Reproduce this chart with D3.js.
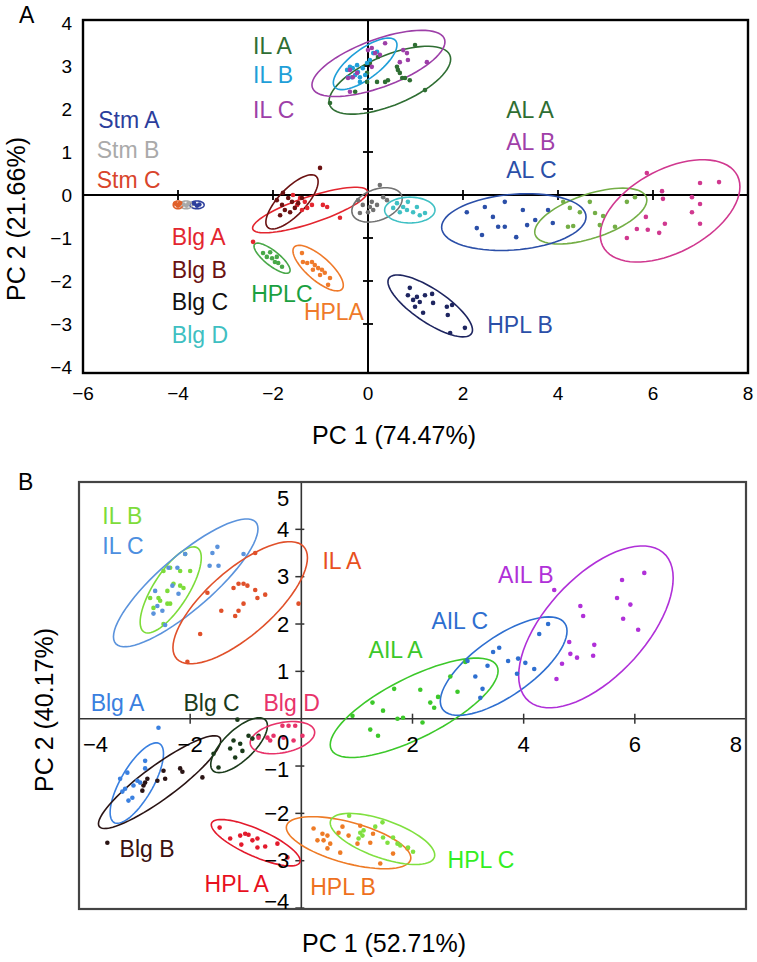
<!DOCTYPE html>
<html><head><meta charset="utf-8">
<script src="https://cdn.jsdelivr.net/npm/d3@7"></script>
<style>
body{margin:0;background:#fff}
text{font-family:"Liberation Sans",Arial,sans-serif}
</style></head>
<body><svg id="c" width="757" height="962"></svg>
<script>
// ---------------- Panel A data ----------------
const groupsA = ["IL A","IL B","IL C","Stm A","Stm B","Stm C","Blg A","Blg B","Blg C","Blg D","HPLC","HPLA","HPL B","AL A","AL B","AL C"];
// ellipse: [cx, cy, half-width, half-height, y-offset of rightmost point] in data units
const ellipsesA = [
  [0.46, 2.67, 1.28, 0.79, 0.49],
  [-0.06, 3.05, 0.67, 0.60, 0.44],
  [0.22, 3.06, 1.40, 0.77, 0.50],
  [-3.60, -0.23, 0.15, 0.09, 0],
  [-3.83, -0.23, 0.13, 0.09, 0],
  [-4.00, -0.23, 0.10, 0.09, 0],
  [-1.22, -0.35, 1.21, 0.53, 0.42],
  [-1.60, -0.16, 0.55, 0.63, 0.47],
  [0.19, -0.23, 0.53, 0.40, 0.14],
  [0.88, -0.35, 0.53, 0.30, 0],
  [-2.02, -1.47, 0.38, 0.35, -0.28],
  [-1.05, -1.70, 0.53, 0.53, -0.40],
  [1.31, -2.58, 0.89, 0.72, -0.56],
  [4.69, -0.49, 1.18, 0.65, 0.37],
  [6.36, -0.37, 1.47, 1.19, 0.56],
  [3.07, -0.63, 1.52, 0.66, 0.12]
];
const pointsA = [
  [[-0.80,2.14],[-0.27,2.40],[0.19,2.63],[0.36,2.63],[0.42,2.67],[0.61,2.98],[0.63,2.91],[0.67,2.84],[0.72,2.72],[0.78,2.72],[0.88,2.67],[1.20,2.44],[-0.02,2.84],[0.04,3.07],[0.21,3.21],[-0.02,2.63],[0.99,3.49]],
  [[-0.44,2.91],[-0.38,2.98],[-0.32,2.95],[-0.23,3.02],[-0.21,2.86],[-0.27,2.79],[-0.17,2.74],[-0.34,2.74],[-0.11,2.95],[-0.02,3.07],[0.04,3.14],[0.11,3.30],[0.19,3.33],[-0.17,2.63],[-0.42,2.74],[-0.06,2.79]],
  [[-0.38,2.91],[-0.42,2.72],[-0.32,2.74],[-0.23,2.84],[0.00,3.37],[0.08,3.42],[0.15,3.30],[0.25,3.26],[0.74,3.37],[0.82,3.30],[0.84,3.14],[0.67,3.09],[1.24,3.09],[-0.38,2.40],[0.08,2.98],[0.36,3.53]],
  [[-3.66,-0.20],[-3.60,-0.25],[-3.55,-0.22]],
  [[-3.88,-0.22],[-3.82,-0.25],[-3.78,-0.20]],
  [[-4.06,-0.20],[-4.00,-0.25],[-3.96,-0.20],[-4.02,-0.22]],
  [[-1.58,0.00],[-1.43,-0.07],[-1.33,-0.16],[-1.18,-0.23],[-0.95,-0.23],[-0.86,-0.28],[-0.59,-0.53],[-1.49,-0.23],[-1.28,-0.30],[-1.39,-0.35],[-2.42,-1.09]],
  [[-1.01,0.63],[-1.79,0.05],[-1.68,-0.07],[-1.60,-0.16],[-1.81,-0.23],[-1.75,-0.35],[-1.54,-0.30],[-1.64,-0.40],[-1.85,-0.47],[-1.47,-0.19],[-1.39,-0.07],[-1.92,-0.12]],
  [[-0.21,-0.12],[-0.11,-0.23],[0.04,-0.28],[0.11,-0.35],[0.08,-0.16],[0.25,0.23],[0.32,-0.05],[0.40,-0.12],[0.00,-0.40],[-0.17,-0.42],[0.19,-0.23]],
  [[0.61,-0.19],[0.74,-0.28],[0.82,-0.35],[0.95,-0.40],[1.09,-0.47],[1.20,-0.42],[0.84,-0.16],[0.67,-0.40],[1.03,-0.28],[0.53,-0.30]],
  [[-2.21,-1.35],[-2.13,-1.44],[-2.02,-1.47],[-1.96,-1.56],[-1.89,-1.58],[-1.81,-1.67],[-2.06,-1.33],[-1.92,-1.44]],
  [[-1.37,-1.56],[-1.28,-1.58],[-1.18,-1.56],[-1.12,-1.63],[-1.05,-1.70],[-0.97,-1.74],[-0.91,-1.81],[-0.80,-1.93],[-0.84,-2.09],[-1.16,-1.74],[-1.01,-1.86],[-1.39,-1.35]],
  [[0.88,-2.16],[0.84,-2.33],[0.95,-2.44],[1.03,-2.37],[1.09,-2.49],[0.99,-2.60],[1.16,-2.74],[1.35,-2.30],[1.37,-2.51],[1.66,-2.60],[1.77,-2.56],[1.68,-2.79],[1.73,-3.21],[2.04,-3.09],[1.20,-2.33]],
  [[4.11,-0.16],[4.25,-0.30],[4.46,-0.40],[4.67,-0.16],[4.78,-0.42],[4.95,-0.49],[5.20,-0.74],[5.45,-0.16],[5.62,-0.05],[4.21,-0.74],[4.32,-0.72],[4.88,-0.70]],
  [[5.87,0.51],[6.19,0.09],[6.21,-0.09],[6.99,0.28],[7.39,0.30],[6.82,-0.05],[6.99,-0.21],[6.82,-0.40],[6.99,-0.67],[6.25,-0.67],[5.85,-0.51],[5.66,-0.79],[5.89,-0.81],[5.45,-1.00],[6.13,-0.88]],
  [[2.08,-0.40],[2.46,-0.28],[2.88,-0.16],[3.26,-0.35],[3.52,-0.58],[3.79,-0.35],[3.89,-0.65],[2.63,-0.51],[2.29,-0.77],[2.40,-0.93],[2.74,-0.74],[2.88,-0.74],[3.12,-0.98],[3.35,-0.70]]
];
const labelTextA = ["IL A","IL B","IL C","Stm A","Stm B","Stm C","Blg A","Blg B","Blg C","Blg D","HPLC","HPLA","HPL B","AL A","AL B","AL C"];
const labelPosA = [[-2.42,3.28],[-2.42,2.60],[-2.42,1.79],[-5.68,1.56],[-5.71,0.86],[-5.71,0.16],[-4.13,-1.16],[-4.13,-1.93],[-4.13,-2.67],[-4.13,-3.44],[-2.46,-2.49],[-1.35,-2.91],[2.51,-3.21],[2.91,1.79],[2.91,1.05],[2.91,0.40]];
const xTicksA = [-6,-4,-2,0,2,4,6,8];
const yTicksA = [-4,-3,-2,-1,0,1,2,3,4];

// ---------------- Panel B data ----------------
const groupsB = ["IL B","IL C","IL A","Blg A","Blg B","Blg C","Blg D","AIL A","AIL C","AIL B","HPL A","HPL B","HPL C"];
const ellipsesB = [
  [-2.35, 2.72, 0.55, 0.91, 0.68],
  [-2.08, 2.87, 1.30, 1.35, 1.14],
  [-1.10, 2.45, 1.21, 1.29, 0.95],
  [-2.96, -1.36, 0.48, 0.85, 0.62],
  [-2.55, -1.34, 1.10, 0.98, 0.88],
  [-1.12, -0.56, 0.51, 0.58, 0.41],
  [-0.34, -0.40, 0.58, 0.34, 0.11],
  [2.03, 0.23, 1.51, 1.05, 0.78],
  [3.64, 1.11, 1.14, 1.04, 0.74],
  [5.30, 1.94, 1.39, 1.71, 1.03],
  [-0.82, -2.62, 0.80, 0.49, -0.38],
  [0.85, -2.62, 1.12, 0.55, -0.32],
  [1.46, -2.54, 0.94, 0.54, -0.34]
];
const pointsB = [
  [[-2.09,3.48],[-2.36,3.19],[-2.18,3.12],[-2.00,3.12],[-2.48,3.12],[-2.30,2.85],[-2.41,2.70],[-2.18,2.81],[-2.12,2.76],[-2.57,2.55],[-2.66,2.34],[-2.54,2.49],[-2.41,2.43],[-2.36,2.43],[-2.48,2.00],[-2.72,2.55]],
  [[-2.09,3.48],[-1.60,3.50],[-1.51,3.63],[-1.65,3.23],[-1.49,3.23],[-1.04,3.48],[-2.39,3.19],[-2.23,3.19],[-2.32,2.81],[-2.21,2.64],[-2.63,2.70],[-2.59,2.38],[-2.66,2.22],[-2.50,2.28],[-2.45,1.98]],
  [[-0.83,3.50],[-1.22,2.76],[-1.13,2.85],[-1.04,2.85],[-0.97,2.81],[-0.83,2.72],[-0.65,2.62],[-0.79,2.55],[-1.69,2.66],[-1.44,2.28],[-1.19,2.17],[-1.13,2.28],[-1.04,2.43],[-1.82,1.79],[-2.05,1.20],[-0.05,2.43]],
  [[-2.57,-0.19],[-2.81,-0.89],[-3.13,-1.14],[-3.26,-1.27],[-2.95,-1.31],[-2.90,-1.35],[-3.17,-1.48],[-3.02,-1.41],[-3.04,-1.67],[-3.11,-1.73],[-3.22,-1.54],[-2.81,-1.05]],
  [[-3.49,-2.62],[-2.77,-1.27],[-2.84,-1.41],[-2.86,-1.52],[-2.59,-1.31],[-2.48,-1.10],[-2.45,-1.27],[-2.18,-1.05],[-2.14,-1.12],[-1.78,-1.24],[-2.81,-1.35]],
  [[-1.15,-0.02],[-1.58,-0.74],[-1.22,-0.46],[-1.10,-0.53],[-0.95,-0.36],[-0.88,-0.42],[-1.28,-0.63],[-1.19,-0.82],[-1.49,-1.03],[-1.06,-0.68],[-0.77,-0.36]],
  [[-0.77,-0.40],[-0.61,-0.40],[-0.50,-0.36],[-0.34,-0.15],[-0.23,-0.15],[-0.11,-0.15],[-0.32,-0.40],[-0.14,-0.46],[0.02,-0.36],[-0.56,-0.46]],
  [[2.95,1.20],[2.68,0.89],[2.81,0.57],[2.32,0.34],[2.39,0.23],[2.46,0.46],[2.14,0.61],[1.67,0.63],[1.28,0.34],[1.47,0.17],[1.83,0.02],[0.92,0.06],[2.18,-0.08],[1.24,-0.23],[1.38,-0.36],[1.73,0.00]],
  [[4.44,2.00],[4.28,1.79],[3.56,1.50],[3.45,1.41],[3.35,1.12],[2.99,1.22],[3.72,1.22],[3.90,1.27],[4.03,1.18],[3.88,0.95],[4.19,1.05],[3.13,0.89],[3.26,0.63],[3.22,0.44]],
  [[4.55,2.72],[5.02,2.38],[5.07,2.17],[4.82,1.62],[4.84,1.37],[4.96,1.29],[4.69,1.16],[4.59,0.84],[5.27,1.56],[5.25,1.33],[5.68,2.55],[5.77,2.93],[6.17,3.08],[5.92,2.41],[5.79,2.11],[6.06,1.88]],
  [[-1.47,-2.30],[-1.10,-2.47],[-1.01,-2.43],[-0.95,-2.45],[-0.88,-2.57],[-0.79,-2.53],[-0.65,-2.70],[-0.43,-2.64],[-1.08,-2.66],[-1.28,-2.53],[-0.79,-2.72],[-0.25,-2.93]],
  [[0.22,-2.32],[0.38,-2.43],[0.47,-2.47],[0.29,-2.57],[0.40,-2.57],[0.52,-2.64],[0.47,-2.74],[0.67,-2.41],[0.70,-2.83],[0.85,-2.47],[1.01,-2.64],[1.24,-2.62],[1.29,-2.43],[1.42,-3.06],[1.65,-2.85],[1.91,-2.74],[0.74,-2.28],[1.06,-2.26]],
  [[0.86,-2.05],[1.06,-2.41],[1.10,-2.47],[1.03,-2.53],[1.33,-2.28],[1.46,-2.19],[1.47,-2.51],[1.55,-2.62],[1.65,-2.51],[1.73,-2.64],[1.78,-2.68],[1.92,-2.72],[2.01,-2.81],[1.12,-2.36]]
];
const labelTextB = ["IL B","IL C","IL A","Blg A","Blg B","Blg C","Blg D","AIL A","AIL C","AIL B","HPL A","HPL B","HPL C"];
const labelPosB = [[-3.58,4.11],[-3.58,3.48],[0.38,3.16],[-3.79,0.17],[-3.27,-2.93],[-2.12,0.17],[-0.68,0.17],[1.21,1.29],[2.34,1.90],[3.54,2.87],[-1.74,-3.67],[0.16,-3.73],[2.63,-3.16]];
const xTicksB = [-4,-2,2,4,6,8];
const yTicksB = [-4,-3,-2,-1,1,2,3,4,5];

// ---------------- styles ----------------
const markColorA = ["#2f6e33","#1f9fd8","#9d3fa8","#2c3e9c","#a8a8a8","#e0602a","#e3262f","#6b1212","#727272","#3fc0c4","#48a848","#ef7a2a","#1e2560","#74ae46","#d0388f","#2b4fa8"];
const labelColorA = ["#2f6e33","#1f9fd8","#9d3fa8","#2c3e9c","#aaaaaa","#d9452b","#e3262f","#6b1212","#111111","#3fbfc2","#1aa040","#ef7a2a","#2b4fa8","#2f6e33","#a040a8","#2b4fa8"];
const markColorB = ["#7ddc3a","#5b93dc","#e0502a","#3a80e0","#2a1414","#1a3a1a","#e8336a","#3cc82a","#2e6fd0","#b030d8","#e31a2c","#ee7b26","#80e040"];
const labelColorB = ["#7ddc3a","#4d8fe0","#e8501e","#3a80e0","#3a1010","#1a3a1a","#e8336a","#3cc82a","#2e6fd0","#b030d8","#e8101e","#ee7020","#33ee22"];

const svg = d3.select("#c");

function ellipsePath(e, xs, ys) {
  const [cx, cy, W, H, s] = e;
  const h = Math.sqrt(Math.max(H*H - s*s, 0.0001));
  const pts = d3.range(0, 73).map(i => {
    const t = i / 72 * 2 * Math.PI;
    return [xs(cx + W*Math.cos(t)), ys(cy + s*Math.cos(t) + h*Math.sin(t))];
  });
  return d3.line().curve(d3.curveLinearClosed)(pts);
}

function drawPanel(g, o) {
  const {xs, ys, ellipses, points, markColor, labelText, labelPos, labelColor, r} = o;
  g.selectAll("path.ell").data(ellipses).join("path").attr("class","ell")
    .attr("d", e => ellipsePath(e, xs, ys))
    .attr("fill","none").attr("stroke",(d,i)=>markColor[i]).attr("stroke-width",1.6);
  points.forEach((arr, i) => {
    g.append("g").selectAll("circle").data(arr).join("circle")
      .attr("cx", d => xs(d[0])).attr("cy", d => ys(d[1])).attr("r", r)
      .attr("fill", markColor[i]);
  });
  g.selectAll("text.lab").data(labelText).join("text").attr("class","lab")
    .attr("x",(d,i)=>xs(labelPos[i][0])).attr("y",(d,i)=>ys(labelPos[i][1]))
    .attr("font-size",23).attr("fill",(d,i)=>labelColor[i]).text(d=>d);
}

// ================= Panel A =================
const xA = d3.scaleLinear().domain([-6, 8]).range([83, 748]);
const yA = d3.scaleLinear().domain([-4.14, 4.07]).range([373, 20]);
const gA = svg.append("g");
gA.append("line").attr("x1",xA(-6)).attr("x2",xA(8)).attr("y1",yA(0)).attr("y2",yA(0)).attr("stroke","#000").attr("stroke-width",2);
gA.append("line").attr("x1",xA(0)).attr("x2",xA(0)).attr("y1",yA(4.07)).attr("y2",yA(-4.14)).attr("stroke","#000").attr("stroke-width",2);
gA.selectAll("line.xt").data(xTicksA.filter(v=>v!==0 && v>-6 && v<8)).join("line")
  .attr("x1",d=>xA(d)).attr("x2",d=>xA(d)).attr("y1",yA(0)-5).attr("y2",yA(0)+5).attr("stroke","#000").attr("stroke-width",1.8);
gA.selectAll("line.yt").data(yTicksA.filter(v=>v!==0 && Math.abs(v)<4)).join("line")
  .attr("y1",d=>yA(d)).attr("y2",d=>yA(d)).attr("x1",xA(0)-5).attr("x2",xA(0)+5).attr("stroke","#000").attr("stroke-width",1.8);
drawPanel(gA, {xs:xA, ys:yA, ellipses:ellipsesA, points:pointsA, markColor:markColorA, labelText:labelTextA, labelPos:labelPosA, labelColor:labelColorA, r:2.3});
gA.append("rect").attr("x",xA(-6)).attr("y",yA(4.07)).attr("width",xA(8)-xA(-6)).attr("height",yA(-4.14)-yA(4.07))
  .attr("fill","none").attr("stroke","#000").attr("stroke-width",2.4);
const fmt = d3.format("");
gA.selectAll("text.xl").data(xTicksA).join("text").attr("x",d=>xA(d)).attr("y",400)
  .attr("text-anchor","middle").attr("font-size",19).text(d=>fmt(d));
gA.selectAll("text.yl").data(yTicksA).join("text").attr("x",72).attr("y",d=>yA(d)).attr("dy","0.35em")
  .attr("text-anchor","end").attr("font-size",19).text(d=>fmt(d));
gA.append("text").attr("x",394).attr("y",444).attr("text-anchor","middle").attr("font-size",25).text("PC 1 (74.47%)");
gA.append("text").attr("transform","translate(25,219) rotate(-90)").attr("text-anchor","middle").attr("font-size",25).text("PC 2 (21.66%)");
gA.append("text").attr("x",19).attr("y",23).attr("font-size",23).text("A");

// ================= Panel B =================
const xB = d3.scaleLinear().domain([-4, 8]).range([79, 746]);
const yB = d3.scaleLinear().domain([-4.02, 5.0]).range([909, 482]);
const gB = svg.append("g");
gB.append("line").attr("x1",xB(-4)).attr("x2",xB(8)).attr("y1",yB(0)).attr("y2",yB(0)).attr("stroke","#333").attr("stroke-width",1.6);
gB.append("line").attr("x1",xB(0)).attr("x2",xB(0)).attr("y1",yB(5)).attr("y2",yB(-4.02)).attr("stroke","#333").attr("stroke-width",1.6);
gB.selectAll("line.xt").data(xTicksB.filter(v=>v>-4 && v<8)).join("line")
  .attr("x1",d=>xB(d)).attr("x2",d=>xB(d)).attr("y1",yB(0)-5).attr("y2",yB(0)+5).attr("stroke","#333").attr("stroke-width",1.5);
gB.selectAll("line.yt").data(yTicksB.filter(v=>v<5)).join("line")
  .attr("y1",d=>yB(d)).attr("y2",d=>yB(d)).attr("x1",xB(0)-6).attr("x2",xB(0)+3).attr("stroke","#333").attr("stroke-width",1.5);
drawPanel(gB, {xs:xB, ys:yB, ellipses:ellipsesB, points:pointsB, markColor:markColorB, labelText:labelTextB, labelPos:labelPosB, labelColor:labelColorB, r:2.3});
gB.append("rect").attr("x",xB(-4)).attr("y",yB(5)).attr("width",xB(8)-xB(-4)).attr("height",yB(-4.02)-yB(5))
  .attr("fill","none").attr("stroke","#444").attr("stroke-width",2.2);
gB.selectAll("text.xl").data(xTicksB).join("text")
  .attr("x",d=> d===-4 ? xB(d)+4 : d===8 ? xB(d)-4 : xB(d))
  .attr("text-anchor",d=> d===-4 ? "start" : d===8 ? "end" : "middle")
  .attr("y",yB(0)+33).attr("font-size",22).text(d=>fmt(d));
gB.selectAll("text.yl").data(yTicksB).join("text")
  .attr("x",xB(0)-12)
  .attr("y",d=> d===5 ? yB(d)+16 : d===-4 ? yB(d)-7 : d===-1 ? yB(d)+3 : yB(d)).attr("dy","0.35em")
  .attr("text-anchor","end").attr("font-size",22).text(d=>fmt(d));
gB.append("text").attr("x",xB(0)-12).attr("y",yB(0)+31).attr("text-anchor","end").attr("font-size",22).text(fmt(0));
gB.append("text").attr("x",384).attr("y",952).attr("text-anchor","middle").attr("font-size",25).text("PC 1 (52.71%)");
gB.append("text").attr("transform","translate(53,710) rotate(-90)").attr("text-anchor","middle").attr("font-size",25).text("PC 2 (40.17%)");
gB.append("text").attr("x",18).attr("y",490).attr("font-size",23).text("B");
</script></body></html>
